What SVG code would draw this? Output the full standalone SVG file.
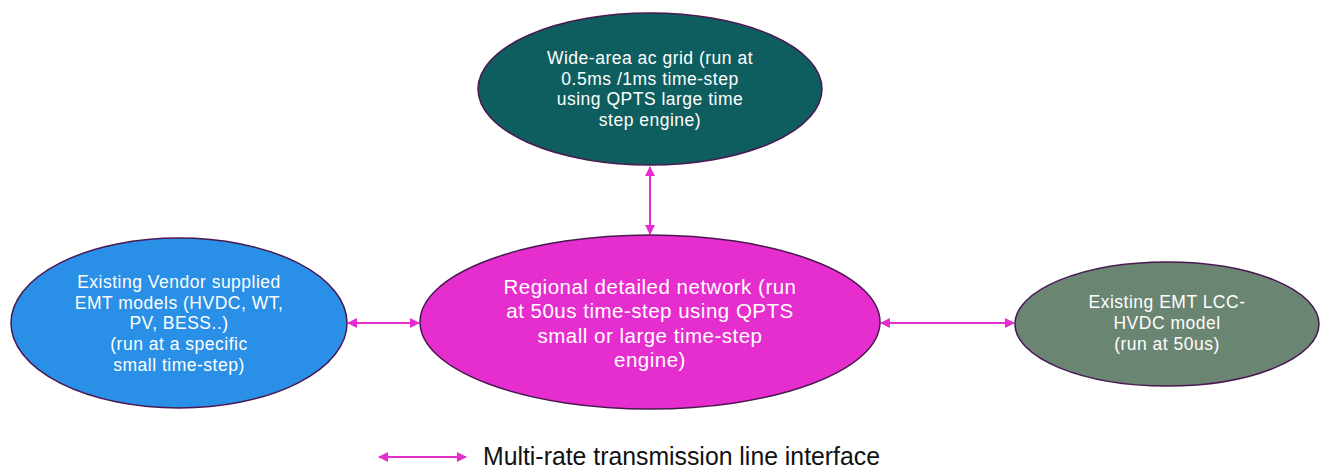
<svg xmlns="http://www.w3.org/2000/svg" width="1320" height="468" viewBox="0 0 1320 468">
<style>
.node ellipse{stroke:#4a1850;stroke-width:1.5}
.t{font-family:"Liberation Sans",Arial,sans-serif;fill:#ffffff;text-anchor:middle}
.s{font-size:17.5px;letter-spacing:0.5px}
.l{font-size:20.5px;letter-spacing:0.5px}
.conn line{stroke:#e62ecf;stroke-width:2;marker-start:url(#ah);marker-end:url(#ah)}
.legend{font-family:"Liberation Sans",Arial,sans-serif;font-size:25px;fill:#111111}
</style>
<defs>
<marker id="ah" viewBox="0 0 10 10" refX="9" refY="5" markerWidth="5" markerHeight="5" orient="auto-start-reverse" markerUnits="strokeWidth">
<path d="M0,0 L10,5 L0,10 z" fill="#e62ecf"/>
</marker>
</defs>
<rect width="1320" height="468" fill="#ffffff"/>
<g class="conn">
<line x1="650" y1="167" x2="650" y2="234"/>
<line x1="348" y1="323" x2="419" y2="323"/>
<line x1="881" y1="323" x2="1014" y2="323"/>
<line x1="379" y1="457" x2="466" y2="457"/>
</g>
<g id="wide-area" class="node">
<ellipse cx="650" cy="89" rx="172" ry="76" fill="#0e5e60"/>
<text class="t s"><tspan x="650" y="64">Wide-area ac grid (run at</tspan><tspan x="650" y="85">0.5ms /1ms time-step</tspan><tspan x="650" y="105">using QPTS large time</tspan><tspan x="650" y="126">step engine)</tspan></text>
</g>
<g id="vendor" class="node">
<ellipse cx="179" cy="323" rx="168" ry="85" fill="#2a8fe6"/>
<text class="t s"><tspan x="179" y="288">Existing Vendor supplied</tspan><tspan x="179" y="309">EMT models (HVDC, WT,</tspan><tspan x="179" y="329">PV, BESS..)</tspan><tspan x="179" y="350">(run at a specific</tspan><tspan x="179" y="371">small time-step)</tspan></text>
</g>
<g id="regional" class="node">
<ellipse cx="650" cy="322" rx="230" ry="87" fill="#e62ecf"/>
<text class="t l"><tspan x="650" y="294">Regional detailed network (run</tspan><tspan x="650" y="318">at 50us time-step using QPTS</tspan><tspan x="650" y="343">small or large time-step</tspan><tspan x="650" y="367">engine)</tspan></text>
</g>
<g id="lcc" class="node">
<ellipse cx="1167" cy="324" rx="152" ry="62" fill="#6a8572"/>
<text class="t s"><tspan x="1167" y="308">Existing EMT LCC-</tspan><tspan x="1167" y="329">HVDC model</tspan><tspan x="1167" y="350">(run at 50us)</tspan></text>
</g>
<g id="legend">
<text class="legend" x="483" y="465" textLength="397" lengthAdjust="spacingAndGlyphs">Multi-rate transmission line interface</text>
</g>
</svg>
